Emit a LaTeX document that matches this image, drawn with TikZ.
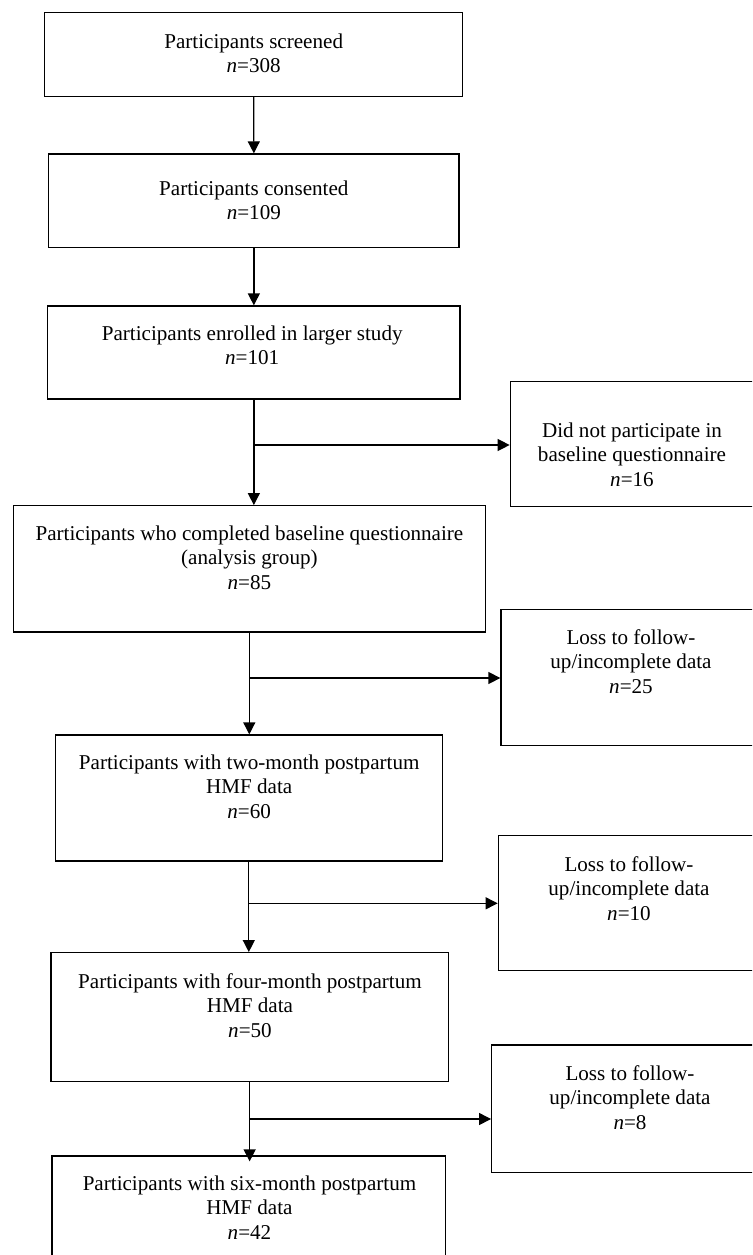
\documentclass[tikz,border=0pt]{standalone}
\usepackage{fontspec}
\setmainfont{Liberation Serif}
\usetikzlibrary{arrows.meta}
\tikzset{
  box/.style={draw=black, line width=1.3pt, rectangle, inner sep=0pt, fill=none},
  txt/.style={align=center, anchor=base, inner sep=0pt, font=\fontsize{21.1}{24.5}\selectfont},
  arr/.style={line width=1.3pt, -{Triangle[length=12pt,width=12pt]}}
}
\begin{document}
\begin{tikzpicture}[x=1pt,y=-1pt]
\useasboundingbox (0,0) rectangle (752,1255);
\clip (0,0) rectangle (752,1255);
\fill[white] (0,0) rectangle (752,1255);

% boxes
\node[box, minimum width=418pt, minimum height=83.6pt] (b1) at (253.7,54.5) {};
\node[box, minimum width=410.3pt, minimum height=93.7pt] (b2) at (253.85,200.85) {};
\node[box, minimum width=412.3pt, minimum height=93pt] (b3) at (253.85,352.5) {};
\node[box, minimum width=249.7pt, minimum height=125pt] (s4) at (635.15,444.2) {};
\node[box, minimum width=472pt, minimum height=126.3pt] (b5) at (249.3,568.85) {};
\node[box, minimum width=259pt, minimum height=136.4pt] (s6) at (630.5,677.5) {};
\node[box, minimum width=387pt, minimum height=126pt] (b7) at (248.8,798) {};
\node[box, minimum width=261.7pt, minimum height=134.6pt] (s8) at (629.15,903) {};
\node[box, minimum width=397.3pt, minimum height=129pt] (b9) at (249.65,1017.2) {};
\node[box, minimum width=278.3pt, minimum height=127.3pt] (s10) at (630.85,1108.65) {};
\node[box, minimum width=393.7pt, minimum height=129pt] (b11) at (248.85,1220.5) {};

% texts (anchor = baseline of last line)
\node[txt] (t1) at (253.7,72.5) {Participants screened\\\textit{n}=308};
\node[txt] (t2) at (253.8,219.5) {Participants consented\\\textit{n}=109};
\node[txt] (t3) at (252.2,364.5) {Participants enrolled in larger study\\\textit{n}=101};
\node[txt] (t4) at (632,486) {Did not participate in\\baseline questionnaire\\\textit{n}=16};
\node[txt] (t5) at (249.4,589) {Participants who completed baseline questionnaire\\(analysis group)\\\textit{n}=85};
\node[txt] (t6) at (631,693) {Loss to follow-\\up/incomplete data\\\textit{n}=25};
\node[txt] (t7) at (249.2,818) {Participants with two-month postpartum\\HMF data\\\textit{n}=60};
\node[txt] (t8) at (629,920) {Loss to follow-\\up/incomplete data\\\textit{n}=10};
\node[txt] (t9) at (250,1037) {Participants with four-month postpartum\\HMF data\\\textit{n}=50};
\node[txt] (t10) at (630,1129) {Loss to follow-\\up/incomplete data\\\textit{n}=8};
\node[txt] (t11) at (249.5,1239) {Participants with six-month postpartum\\HMF data\\\textit{n}=42};

% junction points
\coordinate (j1) at (253.2,445);
\coordinate (j2) at (249.5,678);
\coordinate (j3) at (249.2,903.3);
\coordinate (j4) at (250,1119);

% connectors
\draw[arr] (b1.south) -- (b2.north);
\draw[arr] (b2.south) -- (b3.north);
\draw[arr] (b3.south) -- (b3.south |- b5.north);
\draw[arr] (j1) -- (s4.west |- j1);
\draw[arr] (b5.south) -- (b5.south |- b7.north);
\draw[arr] (j2) -- (s6.west |- j2);
\draw[arr] (b7.south) -- (b7.south |- b9.north);
\draw[arr] (j3) -- (s8.west |- j3);
\draw[arr] (b9.south) -- ([yshift=-6pt]b9.south |- b11.north);
\draw[arr] (j4) -- (s10.west |- j4);
\end{tikzpicture}
\end{document}
